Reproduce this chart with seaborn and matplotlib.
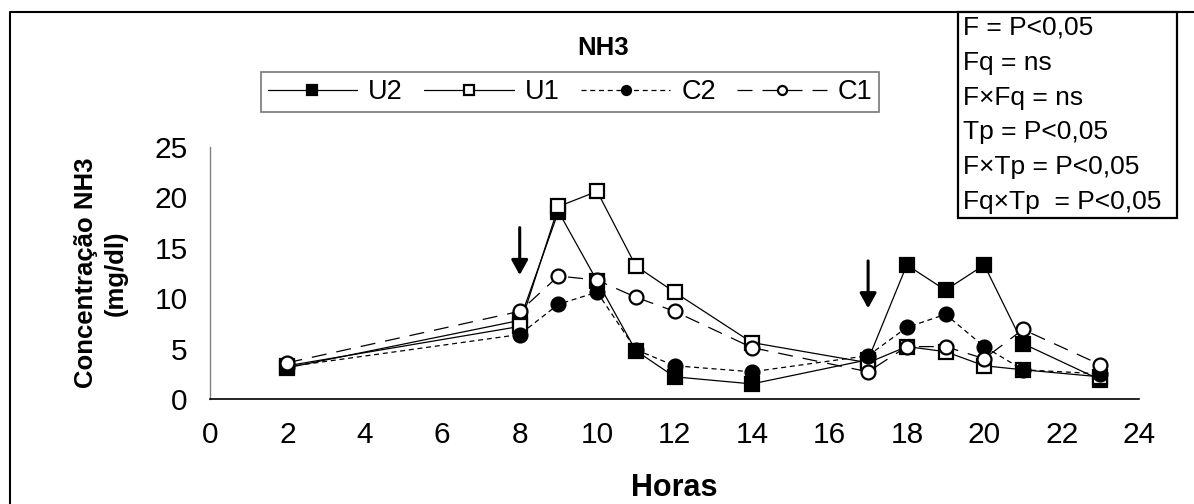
import matplotlib
matplotlib.use('Agg')
import matplotlib.pyplot as plt
import seaborn as sns
from matplotlib.patches import Rectangle
from matplotlib.lines import Line2D

# data
hours = [2, 8, 9, 10, 11, 12, 14, 17, 18, 19, 20, 21, 23]
u2 = [3.1, 7.8, 18.6, 11.7, 4.8, 2.2, 1.5, 3.9, 13.3, 10.8, 13.3, 5.5, 1.9]
u1 = [3.3, 7.2, 19.1, 20.6, 13.2, 10.6, 5.6, 3.6, 5.2, 4.7, 3.3, 2.9, 2.2]
c2 = [3.2, 6.4, 9.4, 10.6, 4.9, 3.3, 2.7, 4.3, 7.1, 8.4, 5.2, 2.9, 2.5]
c1 = [3.6, 8.7, 12.2, 11.8, 10.1, 8.7, 5.1, 2.7, 5.2, 5.2, 4.0, 6.9, 3.4]

# feeding times marked with arrows
arrow_hours = [8, 17]
arrow_top = [17.0, 13.7]
arrow_tip = [12.3, 9.0]

stats_lines = ['F = P<0,05', 'Fq = ns', 'F\u00d7Fq = ns', 'Tp = P<0,05',
               'F\u00d7Tp = P<0,05', 'Fq\u00d7Tp  = P<0,05']

sns.set_style('white')
plt.rcParams['font.family'] = ['Liberation Sans', 'DejaVu Sans']
plt.rcParams['text.color'] = 'black'
plt.rcParams['axes.labelcolor'] = 'black'

fig = plt.figure(figsize=(11.94, 5.04), dpi=100)
ax = fig.add_axes([0.1759, 0.2083, 0.954 - 0.1759, 0.5])

series = [
    ('U2', u2, 's', 'black', '-'),
    ('U1', u1, 's', 'white', '-'),
    ('C2', c2, 'o', 'black', (0, (4, 3))),
    ('C1', c1, 'o', 'white', (0, (12, 8))),
]
for i, (name, vals, mk, face, ls) in enumerate(series):
    sns.lineplot(x=hours, y=vals, ax=ax, color='black', linewidth=0.9,
                 linestyle=ls, marker=mk, markersize=10,
                 markerfacecolor=face, markeredgecolor='black',
                 markeredgewidth=1.6, label=name, zorder=3 + i)

for h, t0, t1 in zip(arrow_hours, arrow_top, arrow_tip):
    ax.annotate('', xy=(h, t1), xytext=(h, t0),
                arrowprops=dict(arrowstyle='-|>,head_length=0.9,head_width=0.5',
                                color='black', lw=2.2, shrinkA=0, shrinkB=0))

ax.set_xlim(0, 24)
ax.set_ylim(0, 25)
ax.set_xticks(range(0, 25, 2))
ax.set_yticks(range(0, 26, 5))
ax.tick_params(axis='both', labelsize=21.5, direction='out', length=7,
               width=1, colors='#808080', labelcolor='black', pad=9)
ax.tick_params(axis='x', pad=9)
for side in ['top', 'right']:
    ax.spines[side].set_visible(False)
ax.spines['left'].set_color('#808080')
ax.spines['bottom'].set_color('black')
ax.spines['left'].set_linewidth(1)
ax.spines['bottom'].set_linewidth(1.2)

ax.set_xlabel('Horas', fontsize=22, fontweight='bold', labelpad=17)
ax.set_ylabel('Concentração NH3\n(mg/dl)', fontsize=18.5, fontweight='bold',
              labelpad=19, linespacing=1.35)

leg = ax.legend(ncol=4, loc='center', bbox_to_anchor=(570 / 1194, 1 - 92 / 504),
                bbox_transform=fig.transFigure, frameon=True, fancybox=False,
                fontsize=19.5, handlelength=3.3, columnspacing=0.8,
                handletextpad=0.4, markerscale=0.65, borderpad=0.25,
                edgecolor='#555555')
leg.get_frame().set_linewidth(1.2)

fig.text(603 / 1194, 1 - 48 / 504, 'NH3', ha='center', va='center',
         fontsize=18.5, fontweight='bold')

# outer frame around the chart area
fig.add_artist(Line2D([10 / 1194, 10 / 1194, 1.0], [0.0, 1 - 12 / 504, 1 - 12 / 504],
                      transform=fig.transFigure, color='black', lw=1.5))

# statistics box
bx0, bx1, by0, by1 = 958 / 1194, 1177 / 1194, 1 - 218 / 504, 1 - 12 / 504
fig.add_artist(Rectangle((bx0, by0), bx1 - bx0, by1 - by0, transform=fig.transFigure,
                         facecolor='white', edgecolor='black', lw=1.6, zorder=5))
for k, txt in enumerate(stats_lines):
    fig.text(963 / 1194, 1 - (28 + 34.8 * k) / 504, txt, ha='left', va='center',
             fontsize=19, zorder=6)

fig.savefig('out.png', dpi=100)
